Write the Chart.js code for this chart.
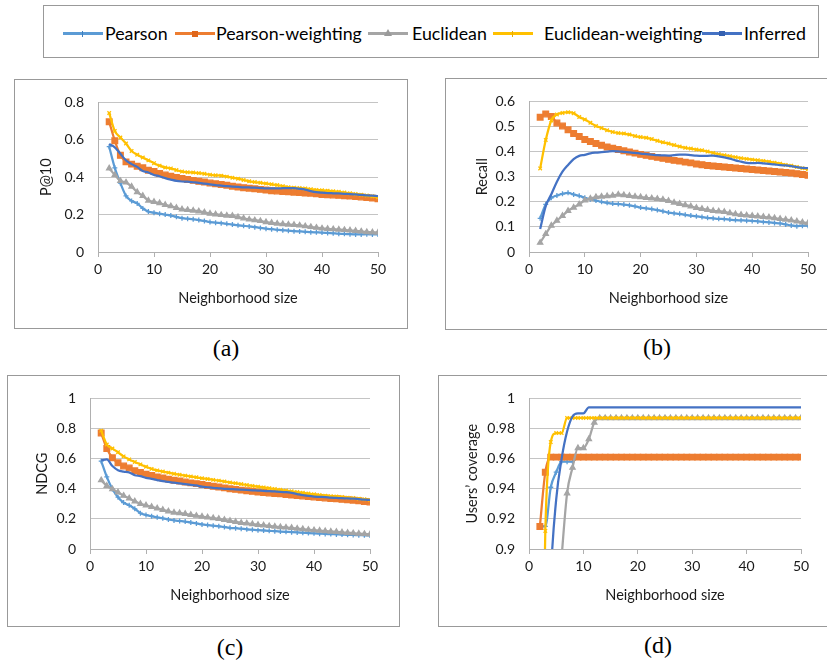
<!DOCTYPE html>
<html>
<head>
<meta charset="utf-8">
<script src="https://cdn.jsdelivr.net/npm/chart.js@4"></script>
<style>
  body { margin: 0; width: 827px; height: 661px; overflow: hidden; background: #fff; position: relative; font-family: Lato, sans-serif; }
  .box { position: absolute; border: 1px solid #999; box-sizing: border-box; }
  canvas { position: absolute; }
  .cap { position: absolute; font-family: "Liberation Serif", serif; font-size: 24px; transform: translate(-50%, -50%); }
  .sw { position: absolute; height: 3px; width: 40px; }
  .mk { position: absolute; }
  .lt { position: absolute; font-size: 17.8px; color: #000; transform: translateY(-50%); white-space: nowrap; }
</style>
</head>
<body>
<div class="box" style="left:43px;top:5px;width:776px;height:53px;"></div>
<div id="legend"></div>

<div class="box" style="left:14px;top:79px;width:394px;height:250px;"></div>
<canvas id="chartA" width="392" height="248" style="left:15px;top:80px;"></canvas>
<div class="cap" style="left:226px;top:348px;">(a)</div>

<div class="box" style="left:445px;top:78px;width:383px;height:252px;"></div>
<canvas id="chartB" width="381" height="250" style="left:446px;top:79px;"></canvas>
<div class="cap" style="left:657px;top:347px;">(b)</div>

<div class="box" style="left:7px;top:375px;width:393px;height:252px;"></div>
<canvas id="chartC" width="391" height="250" style="left:8px;top:376px;"></canvas>
<div class="cap" style="left:230px;top:647px;">(c)</div>

<div class="box" style="left:438px;top:375px;width:390px;height:252px;"></div>
<canvas id="chartD" width="388" height="250" style="left:439px;top:376px;"></canvas>
<div class="cap" style="left:658px;top:645px;">(d)</div>

<script>
const seriesNames = ['Pearson', 'Pearson-weighting', 'Euclidean', 'Euclidean-weighting', 'Inferred'];
const nSize = [2,3,4,5,6,7,8,9,10,11,12,13,14,15,16,17,18,19,20,21,22,23,24,25,26,
  27,28,29,30,31,32,33,34,35,36,37,38,39,40,41,42,43,44,45,46,47,48,49,50];
const xTicks = [0, 10, 20, 30, 40, 50];

// (a) P@10
const yTicksP10 = [0, 0.2, 0.4, 0.6, 0.8];
const pearsonP10 = [0.563,0.45,0.368,0.30,0.273,0.26,0.233,0.216,0.21,0.205,
  0.20,0.195,0.188,0.181,0.178,0.175,0.171,0.166,0.16,0.157,
  0.154,0.151,0.147,0.143,0.140,0.137,0.133,0.129,0.125,0.122,
  0.119,0.116,0.114,0.111,0.110,0.108,0.106,0.105,0.104,0.102,
  0.100,0.098,0.097,0.095,0.094,0.094,0.095,0.094,0.094];
const pearsonWP10 = [0.696,0.595,0.517,0.482,0.47,0.459,0.45,0.437,0.43,0.42,
  0.412,0.405,0.398,0.393,0.388,0.383,0.378,0.374,0.369,0.365,
  0.361,0.357,0.352,0.348,0.344,0.341,0.338,0.335,0.331,0.328,
  0.326,0.324,0.322,0.32,0.318,0.316,0.314,0.312,0.308,0.306,
  0.305,0.303,0.301,0.299,0.297,0.294,0.291,0.288,0.285];
const euclidP10 = [0.447,0.412,0.38,0.372,0.35,0.32,0.3,0.275,0.268,0.262,
  0.252,0.245,0.236,0.228,0.225,0.222,0.218,0.212,0.205,0.202,
  0.198,0.195,0.193,0.187,0.18,0.174,0.17,0.166,0.16,0.156,
  0.152,0.149,0.147,0.145,0.142,0.138,0.134,0.13,0.126,0.124,
  0.122,0.12,0.118,0.116,0.113,0.11,0.107,0.105,0.104];
const euclidWP10 = [0.743,0.647,0.612,0.58,0.54,0.52,0.505,0.49,0.475,0.462,
  0.452,0.447,0.438,0.43,0.427,0.425,0.422,0.418,0.413,0.41,
  0.408,0.403,0.397,0.392,0.385,0.378,0.374,0.37,0.366,0.362,
  0.358,0.352,0.347,0.344,0.342,0.34,0.336,0.332,0.33,0.328,
  0.325,0.322,0.318,0.314,0.31,0.306,0.302,0.298,0.293];
const inferredP10 = [0.577,0.56,0.525,0.49,0.47,0.455,0.433,0.425,0.412,0.405,
  0.395,0.387,0.38,0.377,0.376,0.373,0.37,0.366,0.362,0.358,
  0.355,0.352,0.35,0.348,0.346,0.345,0.344,0.342,0.34,0.34,
  0.34,0.341,0.342,0.341,0.338,0.334,0.326,0.32,0.317,0.315,
  0.314,0.313,0.311,0.31,0.308,0.306,0.303,0.301,0.299];

// (b) Recall
const yTicksRecall = [0, 0.1, 0.2, 0.3, 0.4, 0.5, 0.6];
const pearsonRec = [0.134,0.19,0.216,0.225,0.232,0.236,0.229,0.224,0.216,0.21,
  0.205,0.2,0.196,0.193,0.191,0.189,0.186,0.182,0.177,0.174,
  0.171,0.167,0.162,0.157,0.154,0.152,0.148,0.145,0.142,0.139,
  0.136,0.134,0.132,0.131,0.129,0.127,0.126,0.125,0.124,0.122,
  0.12,0.118,0.116,0.114,0.11,0.106,0.103,0.105,0.105];
const pearsonWRec = [0.537,0.55,0.54,0.514,0.502,0.487,0.472,0.46,0.448,0.44,
  0.432,0.425,0.418,0.413,0.408,0.403,0.398,0.394,0.389,0.385,
  0.381,0.377,0.373,0.369,0.365,0.362,0.358,0.355,0.351,0.348,
  0.345,0.343,0.341,0.339,0.337,0.335,0.333,0.331,0.329,0.327,
  0.325,0.323,0.321,0.319,0.317,0.315,0.312,0.309,0.306];
const euclidRec = [0.037,0.072,0.105,0.125,0.144,0.164,0.177,0.19,0.206,0.213,
  0.219,0.221,0.223,0.225,0.229,0.227,0.224,0.221,0.219,0.216,
  0.214,0.212,0.209,0.204,0.197,0.192,0.187,0.182,0.176,0.172,
  0.168,0.164,0.162,0.16,0.155,0.151,0.148,0.146,0.144,0.142,
  0.14,0.138,0.135,0.132,0.129,0.126,0.122,0.118,0.115];
const euclidWRec = [0.333,0.446,0.524,0.548,0.554,0.557,0.553,0.538,0.528,0.515,
  0.502,0.494,0.485,0.478,0.474,0.472,0.468,0.462,0.458,0.455,
  0.45,0.443,0.437,0.432,0.426,0.42,0.415,0.412,0.408,0.405,
  0.4,0.395,0.39,0.386,0.382,0.378,0.374,0.371,0.368,0.366,
  0.363,0.36,0.356,0.352,0.347,0.344,0.339,0.334,0.33];
const inferredRec = [0.092,0.183,0.23,0.28,0.32,0.347,0.37,0.383,0.387,0.393,
  0.396,0.398,0.4,0.402,0.401,0.399,0.397,0.395,0.392,0.39,
  0.388,0.386,0.385,0.384,0.386,0.388,0.388,0.386,0.384,0.383,
  0.383,0.384,0.381,0.377,0.372,0.365,0.36,0.355,0.354,0.355,
  0.353,0.351,0.349,0.346,0.345,0.342,0.338,0.335,0.334];

// (c) NDCG
const yTicksNdcg = [0, 0.2, 0.4, 0.6, 0.8, 1];
const pearsonNdcg = [0.584,0.479,0.398,0.344,0.308,0.29,0.267,0.238,0.226,0.218,
  0.21,0.204,0.196,0.19,0.186,0.182,0.176,0.17,0.163,0.159,
  0.155,0.151,0.146,0.141,0.138,0.135,0.131,0.128,0.125,0.123,
  0.121,0.118,0.116,0.114,0.112,0.11,0.108,0.106,0.104,0.102,
  0.1,0.099,0.097,0.096,0.094,0.093,0.092,0.091,0.09];
const pearsonWNdcg = [0.77,0.667,0.606,0.573,0.551,0.538,0.519,0.508,0.497,0.488,
  0.479,0.471,0.464,0.457,0.451,0.445,0.439,0.434,0.428,0.422,
  0.416,0.411,0.406,0.4,0.396,0.391,0.387,0.383,0.378,0.375,
  0.372,0.369,0.366,0.362,0.359,0.355,0.352,0.348,0.345,0.342,
  0.339,0.336,0.333,0.33,0.327,0.324,0.32,0.316,0.312];
const euclidNdcg = [0.457,0.42,0.398,0.376,0.354,0.336,0.317,0.3,0.29,0.28,
  0.27,0.26,0.25,0.242,0.238,0.233,0.227,0.221,0.215,0.21,
  0.205,0.2,0.194,0.187,0.18,0.174,0.17,0.166,0.161,0.157,
  0.153,0.149,0.146,0.143,0.14,0.136,0.132,0.128,0.125,0.122,
  0.119,0.116,0.114,0.111,0.108,0.105,0.102,0.1,0.098];
const euclidWNdcg = [0.786,0.694,0.667,0.642,0.615,0.595,0.578,0.562,0.546,0.532,
  0.522,0.514,0.507,0.499,0.493,0.487,0.481,0.476,0.47,0.465,
  0.459,0.454,0.448,0.442,0.437,0.431,0.425,0.419,0.414,0.409,
  0.404,0.398,0.393,0.388,0.383,0.378,0.373,0.368,0.363,0.358,
  0.354,0.351,0.348,0.345,0.341,0.338,0.334,0.33,0.326];
const inferredNdcg = [0.589,0.595,0.551,0.523,0.514,0.508,0.49,0.484,0.472,0.466,
  0.458,0.45,0.445,0.441,0.436,0.431,0.426,0.422,0.414,0.41,
  0.406,0.403,0.4,0.398,0.396,0.394,0.392,0.39,0.388,0.386,
  0.384,0.382,0.38,0.377,0.372,0.365,0.358,0.352,0.348,0.346,
  0.344,0.341,0.339,0.337,0.336,0.334,0.331,0.328,0.326];

// (d) Users' coverage
const yTicksCov = [0.9, 0.92, 0.94, 0.96, 0.98, 1];
const pearsonCov = [0.915,0.915,0.941,0.951,0.958,0.958,0.958,0.961,0.961,0.961,
  0.961,0.961,0.961,0.961,0.961,0.961,0.961,0.961,0.961,0.961,
  0.961,0.961,0.961,0.961,0.961,0.961,0.961,0.961,0.961,0.961,
  0.961,0.961,0.961,0.961,0.961,0.961,0.961,0.961,0.961,0.961,
  0.961,0.961,0.961,0.961,0.961,0.961,0.961,0.961,0.961];
const pearsonWCov = [0.915,0.951,0.961,0.961,0.961,0.961,0.961,0.961,0.961,0.961,
  0.961,0.961,0.961,0.961,0.961,0.961,0.961,0.961,0.961,0.961,
  0.961,0.961,0.961,0.961,0.961,0.961,0.961,0.961,0.961,0.961,
  0.961,0.961,0.961,0.961,0.961,0.961,0.961,0.961,0.961,0.961,
  0.961,0.961,0.961,0.961,0.961,0.961,0.961,0.961,0.961];
const euclidCov = [0.70,0.75,0.80,0.85,0.895,0.937,0.954,0.967,0.967,0.973,
  0.984,0.987,0.987,0.987,0.987,0.987,0.987,0.987,0.987,0.987,
  0.987,0.987,0.987,0.987,0.987,0.987,0.987,0.987,0.987,0.987,
  0.987,0.987,0.987,0.987,0.987,0.987,0.987,0.987,0.987,0.987,
  0.987,0.987,0.987,0.987,0.987,0.987,0.987,0.987,0.987];
const euclidWCov = [0.70,0.912,0.971,0.977,0.977,0.987,0.987,0.987,0.987,0.987,
  0.987,0.987,0.987,0.987,0.987,0.987,0.987,0.987,0.987,0.987,
  0.987,0.987,0.987,0.987,0.987,0.987,0.987,0.987,0.987,0.987,
  0.987,0.987,0.987,0.987,0.987,0.987,0.987,0.987,0.987,0.987,
  0.987,0.987,0.987,0.987,0.987,0.987,0.987,0.987,0.987];
const inferredCov = [0.60,0.75,0.88,0.933,0.96,0.978,0.988,0.99,0.99,0.994,
  0.994,0.994,0.994,0.994,0.994,0.994,0.994,0.994,0.994,0.994,
  0.994,0.994,0.994,0.994,0.994,0.994,0.994,0.994,0.994,0.994,
  0.994,0.994,0.994,0.994,0.994,0.994,0.994,0.994,0.994,0.994,
  0.994,0.994,0.994,0.994,0.994,0.994,0.994,0.994,0.994];

// look of each series
const looks = [
  { color: '#5B9BD5', pointStyle: 'cross', radius: 2.5 },
  { color: '#ED7D31', pointStyle: 'rect', radius: 4 },
  { color: '#A5A5A5', pointStyle: 'triangle', radius: 3 },
  { color: '#FFC000', pointStyle: 'crossRot', radius: 2.5 },
  { color: '#4472C4', pointStyle: 'circle', radius: 0 }
];

// shared legend above the four panels
const legendX = [63, 175, 368, 493, 702];
const legendTextX = [105, 216, 412, 544, 744];
const legendMark = [
  'width:1px;height:6px;top:-1.5px;left:19px;background:#3d7fc0;',
  'width:6px;height:6px;top:-1.5px;left:17px;background:#e0661a;',
  'width:0;height:0;top:-3px;left:16px;border-left:4px solid transparent;border-right:4px solid transparent;border-bottom:7px solid #9a9a9a;',
  'width:1px;height:6px;top:-1.5px;left:19px;background:#e8ad00;',
  'width:6px;height:5px;top:-1px;left:17px;background:#3560b0;'
];
const legend = document.getElementById('legend');
seriesNames.forEach((name, i) => {
  const sw = document.createElement('div');
  sw.className = 'sw';
  sw.style.left = legendX[i] + 'px';
  sw.style.top = '32px';
  sw.style.background = looks[i].color;
  const mk = document.createElement('div');
  mk.className = 'mk';
  mk.style.cssText += legendMark[i];
  sw.appendChild(mk);
  legend.appendChild(sw);
  const t = document.createElement('div');
  t.className = 'lt';
  t.style.left = legendTextX[i] + 'px';
  t.style.top = '33px';
  t.textContent = name;
  legend.appendChild(t);
});

const axisFont = { family: 'Lato', size: 14 };
const titleFont = { family: 'Lato', size: 14.5 };

function makePanel(id, yTitle, yTicks, series, pad, yw, xh, yTitlePad, xTitlePad) {
  const datasets = series.map((vals, i) => ({
    label: seriesNames[i],
    data: nSize.map((x, k) => ({ x: x, y: vals[k] })),
    borderColor: looks[i].color,
    backgroundColor: looks[i].color,
    borderWidth: 2.25,
    pointStyle: looks[i].pointStyle,
    pointRadius: looks[i].radius,
    pointBorderWidth: 1.3,
    cubicInterpolationMode: 'monotone',
    order: 4 - i
  }));
  new Chart(document.getElementById(id), {
    type: 'line',
    data: { datasets: datasets },
    options: {
      responsive: false,
      animation: false,
      layout: { padding: { top: pad.top, right: pad.right, left: 0, bottom: 0 } },
      plugins: { legend: { display: false }, tooltip: { enabled: false } },
      scales: {
        x: {
          type: 'linear',
          min: 0, max: 50,
          afterBuildTicks: (s) => { s.ticks = xTicks.map(v => ({ value: v })); },
          afterFit: (s) => { s.height = xh; },
          grid: { drawOnChartArea: false, tickLength: 5, color: '#b0b0b0' },
          border: { color: '#b0b0b0' },
          ticks: { font: axisFont, color: '#1a1a1a', padding: 4, maxRotation: 0 },
          title: { display: true, text: 'Neighborhood size', font: titleFont, color: '#1a1a1a',
                   padding: { top: 0, bottom: xTitlePad } }
        },
        y: {
          min: yTicks[0], max: yTicks[yTicks.length - 1],
          afterBuildTicks: (s) => { s.ticks = yTicks.map(v => ({ value: v })); },
          afterFit: (s) => { s.width = yw; },
          grid: { drawTicks: false, color: '#c4c4c4' },
          border: { color: '#b0b0b0' },
          ticks: { font: axisFont, color: '#1a1a1a', padding: 14,
                   callback: (v) => String(Number(v.toFixed(3))) },
          title: { display: true, text: yTitle, font: titleFont, color: '#1a1a1a',
                   padding: { top: yTitlePad, bottom: 0 } }
        }
      }
    }
  });
}

makePanel('chartA', 'P@10', yTicksP10,
  [pearsonP10, pearsonWP10, euclidP10, euclidWP10, inferredP10],
  { top: 19, right: 29 }, 83, 76, 22.3, 21.3);
makePanel('chartB', 'Recall', yTicksRecall,
  [pearsonRec, pearsonWRec, euclidRec, euclidWRec, inferredRec],
  { top: 20, right: 19 }, 83, 77, 27.3, 22.3);
makePanel('chartC', 'NDCG', yTicksNdcg,
  [pearsonNdcg, pearsonWNdcg, euclidNdcg, euclidWNdcg, inferredNdcg],
  { top: 21, right: 29 }, 82, 77, 25.3, 22.3);
makePanel('chartD', 'Users\u2019 coverage', yTicksCov,
  [pearsonCov, pearsonWCov, euclidCov, euclidWCov, inferredCov],
  { top: 21, right: 26 }, 90, 77, 24.3, 22.3);
</script>
</body>
</html>
